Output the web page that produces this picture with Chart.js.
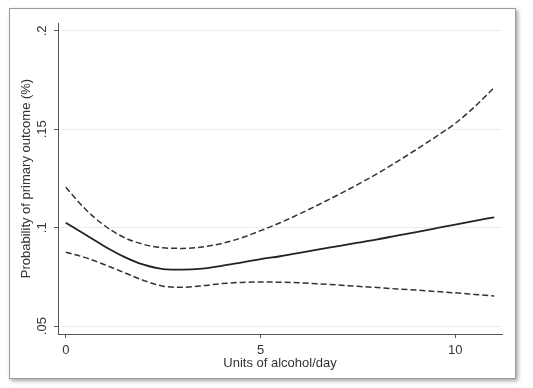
<!DOCTYPE html>
<html>
<head>
<meta charset="utf-8">
<script src="https://cdn.jsdelivr.net/npm/chart.js@4"></script>
<style>
  body { margin: 0; background: #fff; }
  #frame {
    position: absolute; left: 9px; top: 8px; width: 505px; height: 369px;
    border: 1px solid #9a9a9a; background: #fff;
    box-shadow: 2px 2px 4px rgba(0,0,0,0.35);
  }
  #wrap { position: absolute; left: 0; top: 0; width: 533px; height: 388px; }
</style>
</head>
<body>
<div id="frame"></div>
<div id="wrap"><canvas id="myChart" width="533" height="388"></canvas></div>
<script>
// units of alcohol per day
const units = [0, 0.5, 1, 1.5, 2, 2.5, 3, 3.5, 4, 4.5, 5, 5.5, 6, 6.5, 7, 7.5, 8, 8.5, 9, 9.5, 10, 10.5, 11];
// predicted probability and confidence band
const estimate = [0.1025, 0.0965, 0.0905, 0.0852, 0.0812, 0.0790, 0.0787, 0.0792, 0.0806, 0.0823, 0.0840, 0.0855,
  0.0872, 0.0890, 0.0907, 0.0924, 0.0941, 0.0960, 0.0978, 0.0997, 0.1016, 0.1035, 0.1053];
const upper = [0.1205, 0.1095, 0.1010, 0.0950, 0.0915, 0.0898, 0.0895, 0.0902, 0.0920, 0.0948, 0.0985, 0.1025,
  0.1070, 0.1118, 0.1168, 0.1220, 0.1275, 0.1335, 0.1397, 0.1462, 0.1530, 0.1615, 0.1712];
const lower = [0.0875, 0.0848, 0.0812, 0.0772, 0.0732, 0.0703, 0.0697, 0.0705, 0.0716, 0.0722, 0.0724, 0.0723,
  0.0720, 0.0715, 0.0709, 0.0702, 0.0696, 0.0689, 0.0683, 0.0676, 0.0669, 0.0661, 0.0653];
const xTicks = [0, 5, 10];
const yTicks = [0.05, 0.1, 0.15, 0.2];
const yTickLabels = [".05", ".1", ".15", ".2"];

const toPoints = (vals) => vals.map((v, i) => ({ x: units[i], y: v }));

const font = { family: "'Liberation Sans', Arial, sans-serif", size: 13 };

let ctx = document.getElementById("myChart").getContext("2d");
let myChart = new Chart(ctx, {
  type: "line",
  data: {
    datasets: [
      { data: toPoints(upper), borderColor: "#333", borderWidth: 1.5, borderDash: [6, 3] },
      { data: toPoints(estimate), borderColor: "#222", borderWidth: 1.8 },
      { data: toPoints(lower), borderColor: "#333", borderWidth: 1.5, borderDash: [6, 3] },
    ],
  },
  options: {
    responsive: false,
    animation: false,
    elements: { point: { radius: 0 }, line: { tension: 0.4, cubicInterpolationMode: "monotone" } },
    plugins: { legend: { display: false }, tooltip: { enabled: false } },
    layout: { padding: { left: 19, top: 23, right: 31, bottom: 17 } },
    scales: {
      x: {
        type: "linear",
        min: -0.2,
        max: 11.2,
        afterBuildTicks: (axis) => { axis.ticks = xTicks.map((v) => ({ value: v })); },
        afterFit: (axis) => { axis.height = 37; },
        border: { color: "#555", width: 1 },
        grid: { drawOnChartArea: false, tickLength: 4, tickColor: "#555" },
        ticks: { color: "#333", font: font, padding: 5, maxRotation: 0 },
        title: { display: true, text: "Units of alcohol/day", color: "#333", font: font, padding: 0 },
      },
      y: {
        min: 0.046,
        max: 0.204,
        afterBuildTicks: (axis) => { axis.ticks = yTicks.map((v) => ({ value: v })); },
        afterFit: (axis) => { axis.width = 39; },
        border: { color: "#555", width: 1 },
        grid: { color: "#ececec", tickLength: 4, tickColor: "#555" },
        ticks: {
          color: "#333", font: font, padding: 3, minRotation: 90, maxRotation: 90, crossAlign: "center",
          callback: (v) => yTickLabels[yTicks.indexOf(v)] ?? "",
        },
        title: { display: true, text: "Probability of primary outcome (%)", color: "#333", font: font, padding: 0 },
      },
    },
  },
});
</script>
</body>
</html>
